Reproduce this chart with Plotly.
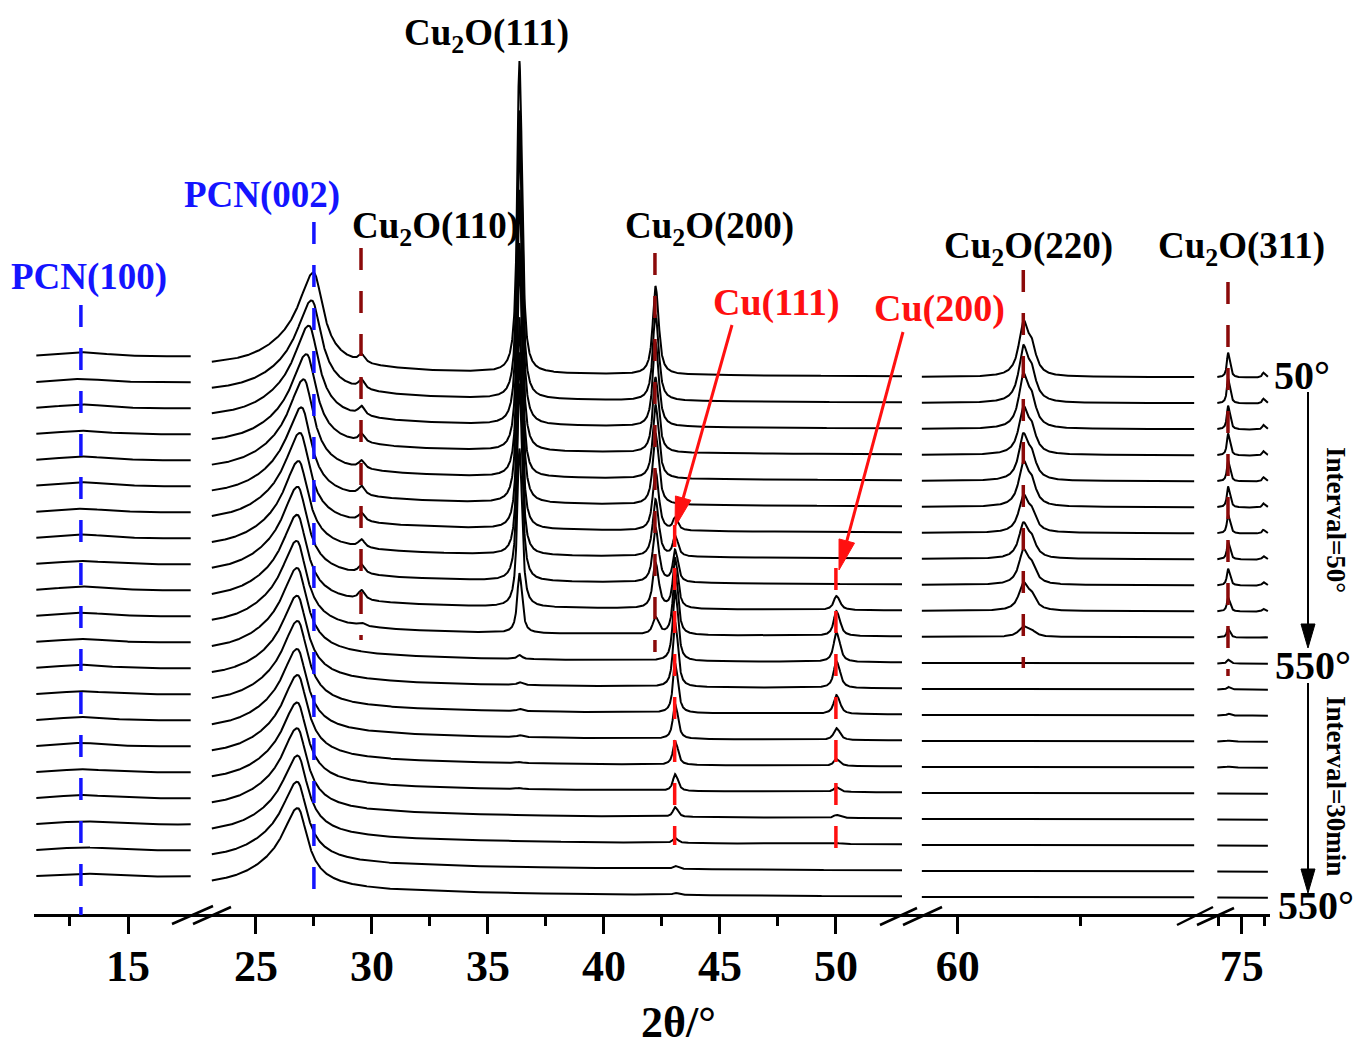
import numpy as np
import plotly.graph_objects as go

FIG_W, FIG_H = 1357, 1048
AXIS_Y = 914  # pixel row of the 2θ axis line (bottom of the plotting area)

# ---------------------------------------------------------------- scans
# in-situ XRD: heating 50 -> 550 °C in 50 °C steps, then holding at 550 °C (30 min steps)
scan_labels = ["50 °C", "100 °C", "150 °C", "200 °C", "250 °C", "300 °C",
               "350 °C", "400 °C", "450 °C", "500 °C", "550 °C",
               "550 °C 30 min", "550 °C 60 min", "550 °C 90 min",
               "550 °C 120 min", "550 °C 150 min", "550 °C 180 min",
               "550 °C 210 min", "550 °C 240 min", "550 °C 270 min",
               "550 °C 300 min"]
n_scans = len(scan_labels)
scan_step = 1000.0  # vertical offset between successive patterns (counts)

# measured 2θ windows (one per broken-axis segment)
scan_windows = [(11.05, 17.70), (23.10, 52.85), (59.27, 64.80), (72.35, 77.85)]

# broken 2θ axis: ranges, tick values
seg_ranges = [(10.95, 18.10), (22.59, 53.28), (59.07, 65.02), (71.01, 78.08)]
seg_major_ticks = [[15], [25, 30, 35, 40, 45, 50], [60], [75]]
seg_minor_ticks = [[12.5], [27.5, 32.5, 37.5, 42.5, 47.5], [62.5], [72.5, 77.5]]

# ---------------------------------------------------------------- background
bg_low_angle = 770.0   # level in the 11-18° window
bg_amp = 380.0         # decaying background from 23°
bg_ref = 23.0
bg_decay = 16.0

# ---------------------------------------------------------------- PCN (g-C3N4)
pcn100_pos = 12.97
pcn100_fwhm = 3.0
pcn100_h = [200, 170, 190, 180, 190, 200, 180, 190, 170, 190, 180,
            170, 180, 160, 170, 170, 160, 170, 160, 160, 150]

pcn002_pos = [27.50, 27.42, 27.30, 27.20, 27.08, 26.98, 26.92, 26.86, 26.82, 26.80, 26.78,
              26.80, 26.80, 26.82, 26.80, 26.82, 26.80, 26.80, 26.82, 26.80, 26.82]
pcn002_hw_left, pcn002_hw_right = 0.75, 0.48
pcn002_h = [3090, 3030, 3050, 2970, 2990, 2920, 2930, 2860, 2860, 2800, 2790,
            2760, 2700, 2720, 2660, 2650, 2600, 2610, 2560, 2550, 2540]
pcn002_broad_shift = -0.8
pcn002_broad_fwhm = 3.5
pcn002_broad_h = [800, 790, 800, 780, 790, 780, 790, 770, 780, 760, 770,
                  760, 750, 760, 740, 750, 740, 740, 740, 740, 740]

# ---------------------------------------------------------------- Cu2O
cu2o_110_pos, cu2o_110_fwhm = 29.53, 0.30
cu2o_110_h = [300, 350, 350, 310, 300, 340, 310, 300, 340, 360, 110,
              0, 0, 0, 0, 0, 0, 0, 0, 0, 0]
cu2o_111_pos, cu2o_111_fwhm = 36.34, 0.20
cu2o_111_h = [12000, 11100, 11250, 10050, 9000, 9600, 8150, 7800, 7600, 6100, 2300,
              150, 110, 80, 70, 40, 40, 0, 0, 0, 0]
cu2o_200_pos, cu2o_200_fwhm = 42.20, 0.25
cu2o_200_h = [3400, 3300, 3250, 2900, 2850, 2750, 2300, 2200, 2100, 1750, 650,
              0, 0, 0, 0, 0, 0, 0, 0, 0, 0]
cu2o_220_pos, cu2o_220_fwhm = 61.33, 0.22
cu2o_220_h = [2200, 2230, 2150, 1900, 1850, 1800, 1500, 1420, 1390, 1120, 420,
              0, 0, 0, 0, 0, 0, 0, 0, 0, 0]
cu2o_311_pos, cu2o_311_fwhm = 73.51, 0.30
cu2o_311_h = [960, 960, 920, 850, 810, 810, 730, 690, 650, 540, 350,
              150, 110, 80, 40, 40, 0, 0, 0, 0, 0]
cu2o_222_pos, cu2o_222_fwhm = 77.35, 0.30
cu2o_222_h = [190, 190, 180, 170, 170, 160, 150, 140, 140, 110, 40,
              0, 0, 0, 0, 0, 0, 0, 0, 0, 0]

# ---------------------------------------------------------------- metallic Cu
cu_111_pos, cu_111_fwhm = 43.05, 0.20
cu_111_h = [0, 0, 0, 0, 0, 0, 460, 770, 1230, 1920, 2500,
            2770, 2500, 1920, 1350, 920, 650, 380, 190, 120, 80]
cu_200_pos, cu_200_fwhm = 50.00, 0.25
cu_200_h = [0, 0, 0, 0, 0, 0, 0, 0, 0, 540, 960,
            1150, 1040, 730, 460, 270, 190, 120, 40, 0, 0]

sharp_peaks = [
    (cu2o_110_pos, cu2o_110_fwhm, cu2o_110_h),
    (cu2o_111_pos, cu2o_111_fwhm, cu2o_111_h),
    (cu2o_200_pos, cu2o_200_fwhm, cu2o_200_h),
    (cu2o_220_pos, cu2o_220_fwhm, cu2o_220_h),
    (cu2o_311_pos, cu2o_311_fwhm, cu2o_311_h),
    (cu2o_222_pos, cu2o_222_fwhm, cu2o_222_h),
    (cu_111_pos, cu_111_fwhm, cu_111_h),
    (cu_200_pos, cu_200_fwhm, cu_200_h),
]

# Cu Kα2 / Kα1 wavelength ratio
KA_RATIO = 1.544390 / 1.540562


def lorentz(tt, x0, fwhm):
    return 1.0 / (1.0 + ((tt - x0) / (0.5 * fwhm)) ** 2)


def split_lorentz(tt, x0, hw_left, hw_right):
    hw = np.where(tt < x0, hw_left, hw_right)
    return 1.0 / (1.0 + ((tt - x0) / hw) ** 2)


def ka_doublet(tt, x0, fwhm):
    """Kα1 + ½Kα2 line profile, scaled to an apex of 1."""
    x2 = 2.0 * np.degrees(np.arcsin(np.sin(np.radians(x0 / 2.0)) * KA_RATIO))

    def prof(t):
        return lorentz(t, x0, fwhm) + 0.5 * lorentz(t, x2, fwhm)

    fine = np.linspace(x0 - fwhm, x2 + fwhm, 1601)
    return prof(tt) / prof(fine).max()


def pattern(tt, k, seg):
    if seg == 0:
        y = np.full_like(tt, bg_low_angle)
    else:
        y = bg_amp * np.exp(-(tt - bg_ref) / bg_decay)
    y = y + pcn100_h[k] * lorentz(tt, pcn100_pos, pcn100_fwhm)
    y = y + pcn002_h[k] * split_lorentz(tt, pcn002_pos[k], pcn002_hw_left, pcn002_hw_right)
    y = y + pcn002_broad_h[k] * lorentz(tt, pcn002_pos[k] + pcn002_broad_shift,
                                        pcn002_broad_fwhm)
    for pos, fwhm, heights in sharp_peaks:
        if heights[k]:
            y = y + heights[k] * ka_doublet(tt, pos, fwhm)
    return y


# ---------------------------------------------------------------- page geometry helpers
def fx(px):
    return px / FIG_W


def fy(py):
    return (AXIS_Y - py) / AXIS_Y


# pixel extents of each axis segment
seg_domain_px = [(34, 200), (200, 912), (912, 1205), (1205, 1270)]
axis_ids = ["x", "x2", "x3", "x4"]

fig = go.Figure()

for k in range(n_scans):
    offset = (n_scans - 1 - k) * scan_step
    for s, (lo, hi) in enumerate(scan_windows):
        tt = np.arange(lo, hi + 1e-9, 0.01)
        fig.add_trace(go.Scatter(
            x=np.round(tt, 3), y=np.round(offset + pattern(tt, k, s), 1),
            mode="lines", xaxis=axis_ids[s], yaxis="y",
            line=dict(color="black", width=2.0),
            name=scan_labels[k], showlegend=False, hoverinfo="skip"))

tick_font = dict(family="Liberation Serif", size=44, color="black", weight="bold")
layout_axes = {}
for s in range(4):
    key = "xaxis" if s == 0 else f"xaxis{s + 1}"
    layout_axes[key] = dict(
        domain=[fx(seg_domain_px[s][0]), fx(seg_domain_px[s][1])],
        range=list(seg_ranges[s]), anchor="y",
        showline=True, linewidth=3, linecolor="black",
        showgrid=False, zeroline=False,
        tickmode="array", tickvals=seg_major_ticks[s],
        ticks="outside", ticklen=17, tickwidth=2.5, tickcolor="black",
        tickfont=tick_font, ticklabelstandoff=-6,
        minor=dict(tickmode="array", tickvals=seg_minor_ticks[s],
                   ticks="outside", ticklen=9, tickwidth=2.5, tickcolor="black",
                   showgrid=False),
        fixedrange=True,
    )

y_bottom = -(AXIS_Y - 898) * scan_step / 26.0
y_top = 898 * scan_step / 26.0
fig.update_layout(
    width=FIG_W, height=FIG_H,
    margin=dict(l=0, r=0, t=0, b=FIG_H - AXIS_Y),
    paper_bgcolor="white", plot_bgcolor="white",
    yaxis=dict(domain=[0, 1], range=[y_bottom, y_top], visible=False, fixedrange=True),
    showlegend=False,
    **layout_axes,
)

BLUE = "#1414ff"
RED = "#ff1010"
DARK_RED = "#8b0a0a"

shapes = []

# reference positions (dashed)
ref_lines = [
    ("x", pcn100_pos, 305, 915, BLUE),
    ("x2", 27.50, 222, 903, BLUE),
    ("x2", cu2o_110_pos, 248, 640, DARK_RED),
    ("x2", cu2o_200_pos, 253, 652, DARK_RED),
    ("x2", cu_111_pos, 525, 845, RED),
    ("x2", cu_200_pos, 568, 850, RED),
    ("x3", cu2o_220_pos, 270, 668, DARK_RED),
    ("x4", cu2o_311_pos, 282, 676, DARK_RED),
]
for xref, pos, top, bot, col in ref_lines:
    shapes.append(dict(type="line", xref=xref, yref="paper",
                       x0=pos, x1=pos, y0=fy(top), y1=fy(bot),
                       line=dict(color=col, width=3.5, dash="22px,21px")))

# axis-break marks
for (a0, a1), (b0, b1) in [(((172, 924), (213, 906)), ((193, 924), (231, 907))),
                           (((880, 925), (917, 908)), ((903, 925), (942, 907))),
                           (((1177, 925), (1213, 907)), ((1197, 925), (1234, 908)))]:
    for p, q in [(a0, a1), (b0, b1)]:
        shapes.append(dict(type="line", xref="paper", yref="paper",
                           x0=fx(p[0]), y0=fy(p[1]), x1=fx(q[0]), y1=fy(q[1]),
                           line=dict(color="black", width=2.5)))


def arrow(tail, tip, color, width, head_len, head_half):
    (x0, y0), (x1, y1) = tail, tip
    dx, dy = x1 - x0, y1 - y0
    ln = np.hypot(dx, dy)
    ux, uy = dx / ln, dy / ln
    bx, by = x1 - ux * head_len, y1 - uy * head_len
    nx, ny = -uy, ux
    out = [dict(type="line", xref="paper", yref="paper",
                x0=fx(x0), y0=fy(y0), x1=fx(bx), y1=fy(by),
                line=dict(color=color, width=width))]
    pts = [(x1, y1), (bx + nx * head_half, by + ny * head_half),
           (bx - nx * head_half, by - ny * head_half)]
    path = "M " + " L ".join(f"{fx(px):.5f},{fy(py):.5f}" for px, py in pts) + " Z"
    out.append(dict(type="path", xref="paper", yref="paper", path=path,
                    fillcolor=color, line=dict(color=color, width=1)))
    return out


shapes += arrow((732, 325), (675, 527), RED, 3, 30, 8)
shapes += arrow((903, 332), (839, 570), RED, 3, 30, 8)
shapes += arrow((1308, 392), (1308, 648), "black", 2, 24, 7)
shapes += arrow((1308, 683), (1308, 893), "black", 2, 24, 7)

fig.update_layout(shapes=shapes)

annotations = []


def label(text, px, py, size, color="black", angle=0):
    annotations.append(dict(
        text=f"<b>{text}</b>", xref="paper", yref="paper",
        x=fx(px), y=fy(py), xanchor="center", yanchor="middle",
        showarrow=False, textangle=angle,
        font=dict(family="Liberation Serif", size=size, color=color)))


label("PCN(100)", 89, 277, 37, BLUE)
label("PCN(002)", 262, 195, 37, BLUE)
label("Cu<sub>2</sub>O(110)", 436, 228, 37)
label("Cu<sub>2</sub>O(111)", 486, 36, 37)
label("Cu<sub>2</sub>O(200)", 709, 228, 37)
label("Cu(111)", 776, 302, 38, RED)
label("Cu(200)", 939, 308, 38, RED)
label("Cu<sub>2</sub>O(220)", 1028, 248, 37)
label("Cu<sub>2</sub>O(311)", 1241, 248, 37)
label("50°", 1302, 375, 40)
label("550°", 1313, 665, 40)
label("550°", 1316, 905, 40)
label("Interval=50°", 1336, 520, 27, angle=90)
label("Interval=30min", 1336, 786, 27, angle=90)
label("2θ/°", 678, 1022, 44)

fig.update_layout(annotations=annotations)

fig.write_html("out.html")
